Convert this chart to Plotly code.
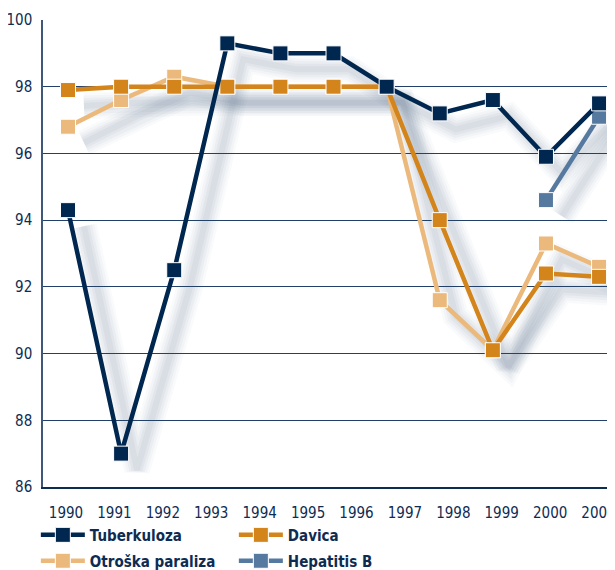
import plotly.graph_objects as go

# ---- data ----
years = ["1990", "1991", "1992", "1993", "1994", "1995", "1996", "1997", "1998", "1999", "2000", "2001"]
point_index = list(range(11))  # the reference plots 11 evenly spaced points
tuberkuloza = [94.3, 87.0, 92.5, 99.3, 99.0, 99.0, 98.0, 97.2, 97.6, 95.9, 97.5]
davica = [97.9, 98.0, 98.0, 98.0, 98.0, 98.0, 98.0, 94.0, 90.1, 92.4, 92.3]
otroska = [96.8, 97.6, 98.3, 98.0, 98.0, 98.0, 98.0, 91.6, 90.1, 93.3, 92.6]
hepatitis_b = [None, None, None, None, None, None, None, None, None, 94.6, 97.1]

series = [
    ("Tuberkuloza", tuberkuloza, "#00274f", "legend"),
    ("Davica", davica, "#d3841a", "legend"),
    ("Otroška paraliza", otroska, "#ebb97b", "legend2"),
    ("Hepatitis B", hepatitis_b, "#55799f", "legend2"),
]
draw_order = [2, 1, 3, 0]  # Otroška below Davica, Tuberkuloza on top

# ---- style ----
NAVY = "#0e2c52"
FONT = "DejaVu Sans Condensed, Roboto, sans-serif"
SHADOW_DX = 0.30
SHADOW_DY = 0.48
shadow_layers = [(26, 0.03), (21, 0.035), (16, 0.04), (11, 0.045), (6, 0.05)]

fig = go.Figure()

# soft drop shadows
for name, vals, color, lg in series:
    sx = [i + SHADOW_DX for i in point_index]
    sy = [None if v is None else v - SHADOW_DY for v in vals]
    for w, a in shadow_layers:
        fig.add_trace(go.Scatter(
            x=sx, y=sy, mode="lines", xaxis="x", yaxis="y",
            line=dict(color=f"rgba(60,85,120,{a})", width=w),
            hoverinfo="skip", showlegend=False, connectgaps=False,
        ))

# main series
for idx in draw_order:
    name, vals, color, lg = series[idx]
    fig.add_trace(go.Scatter(
        x=point_index, y=vals, name=name, mode="lines+markers",
        xaxis="x", yaxis="y", legend=lg, legendrank=idx + 1,
        line=dict(color=color, width=4.5),
        marker=dict(symbol="square", size=15, color=color,
                    line=dict(color="white", width=1)),
        connectgaps=False,
    ))

# invisible trace to hold the label axis
fig.add_trace(go.Scatter(x=list(range(len(years))), y=[None] * len(years),
                         xaxis="x2", yaxis="y", showlegend=False,
                         hoverinfo="skip", mode="lines"))

legend_common = dict(
    orientation="h", xanchor="left", yanchor="middle",
    entrywidth=139, entrywidthmode="pixels", itemwidth=44,
    font=dict(family=FONT, size=15, color=NAVY, weight="bold"),
    bgcolor="rgba(0,0,0,0)", itemclick=False,
)

fig.update_layout(
    width=607, height=562,
    margin=dict(l=35, r=0, t=12, b=83, autoexpand=False),
    paper_bgcolor="white", plot_bgcolor="white",
    font=dict(family=FONT, size=15, color=NAVY),
    showlegend=True,
    xaxis=dict(range=[-0.471, 10.30], visible=False, showgrid=False, zeroline=False),
    xaxis2=dict(
        overlaying="x", anchor="y", side="bottom",
        range=[-0.475, 11.34],
        tickmode="array", tickvals=list(range(len(years))), ticktext=years,
        showgrid=False, zeroline=False,
        showline=True, linecolor=NAVY, linewidth=2,
        ticks="outside", ticklen=11, tickcolor="rgba(0,0,0,0)",
        ticklabeloverflow="allow",
        tickfont=dict(family=FONT, size=15, color=NAVY),
    ),
    yaxis=dict(
        range=[86, 100], dtick=2, tick0=86,
        showgrid=True, gridcolor="#22406a", gridwidth=1,
        zeroline=False,
        showline=True, linecolor="#3f5778", linewidth=1.5,
        ticks="outside", ticklen=6, tickcolor="rgba(0,0,0,0)",
        tickfont=dict(family=FONT, size=15, color=NAVY),
    ),
    legend=dict(legend_common, x=-0.0125, y=-0.103),
    legend2=dict(legend_common, x=-0.0125, y=-0.1585),
)

fig.write_html("out.html")
